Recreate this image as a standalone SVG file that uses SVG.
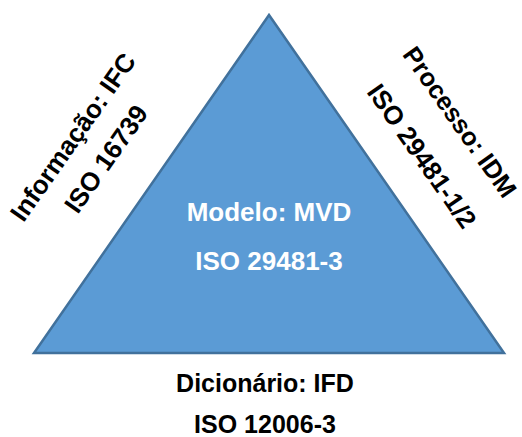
<svg xmlns="http://www.w3.org/2000/svg" width="522" height="437" viewBox="0 0 522 437">
<style>
.t{font-family:"Liberation Sans",Arial,sans-serif;font-weight:bold;font-size:26px;text-anchor:middle}
.b{font-size:25px}
.r{font-size:25.5px}
.k{fill:#000}
.w{fill:#fff}
</style>
<rect width="522" height="437" fill="#fff"/>
<g id="triangle">
<polygon points="269,15 34,353 504,353" fill="#5b9bd5" stroke="#41719c" stroke-width="2.5" stroke-linejoin="miter"/>
<text class="t w" x="269" y="221">Modelo: MVD</text>
<text class="t w" x="269" y="270">ISO 29481-3</text>
</g>
<g id="left-label">
<g transform="translate(73,137) rotate(-55)"><text class="t k" x="0" y="9">Informação: IFC</text></g>
<g transform="translate(106,159) rotate(-55)"><text class="t k" x="0" y="9">ISO 16739</text></g>
</g>
<g id="right-label">
<g transform="translate(460,122) rotate(55)"><text class="t r k" x="0" y="9">Processo: IDM</text></g>
<g transform="translate(422,156) rotate(55)"><text class="t k" x="0" y="9">ISO 29481-1/2</text></g>
</g>
<g id="bottom-label">
<text class="t b k" x="265" y="392">Dicionário: IFD</text>
<text class="t b k" x="265" y="433">ISO 12006-3</text>
</g>
</svg>
